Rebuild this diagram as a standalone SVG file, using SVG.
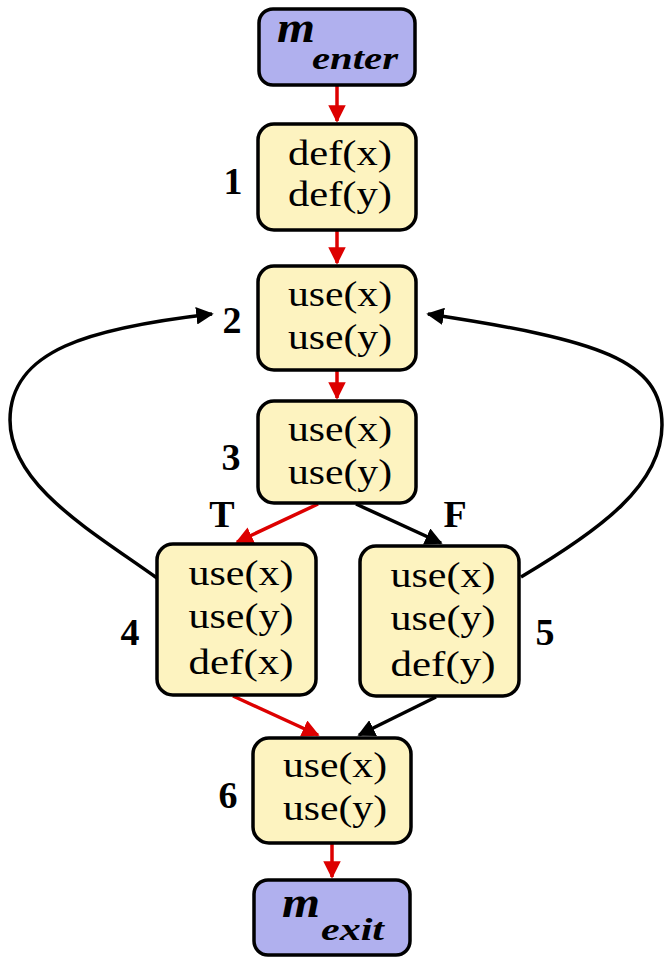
<svg xmlns="http://www.w3.org/2000/svg" width="664" height="959" viewBox="0 0 664 959">
<defs>
<style>
.blk{fill:#fdf3c0;stroke:#000;stroke-width:3.5}
.term{fill:#b0b0ee;stroke:#000;stroke-width:3.5}
.t{font-family:"Liberation Serif",serif;font-size:36px;text-anchor:middle;fill:#000}
.n{font-family:"Liberation Serif",serif;font-size:38px;font-weight:bold;text-anchor:middle;fill:#000}
.m{font-family:"Liberation Serif",serif;font-weight:bold;font-style:italic;fill:#000}
.red{fill:none;stroke:#dd0000;stroke-width:3.5}
.bk{fill:none;stroke:#000;stroke-width:3.5}
</style>
<marker id="ar" viewBox="0 0 10 10" refX="9" refY="5" markerWidth="5" markerHeight="5" orient="auto" markerUnits="strokeWidth"><path d="M0,0 L10,5 L0,10 z" fill="#dd0000"/></marker>
<marker id="ab" viewBox="0 0 10 10" refX="9" refY="5" markerWidth="5" markerHeight="5" orient="auto" markerUnits="strokeWidth"><path d="M0,0 L10,5 L0,10 z" fill="#000"/></marker>
</defs>
<g id="connectors">
<line class="red" x1="337" y1="86" x2="337" y2="121" marker-end="url(#ar)"/>
<line class="red" x1="337" y1="231" x2="337" y2="263" marker-end="url(#ar)"/>
<line class="red" x1="337" y1="371" x2="337" y2="398" marker-end="url(#ar)"/>
<line class="red" x1="318" y1="504" x2="237" y2="542" marker-end="url(#ar)"/>
<line class="bk" x1="356" y1="504" x2="441" y2="543" marker-end="url(#ab)"/>
<line class="red" x1="233" y1="696" x2="318" y2="735" marker-end="url(#ar)"/>
<line class="bk" x1="436" y1="697" x2="359" y2="735" marker-end="url(#ab)"/>
<line class="red" x1="332" y1="844" x2="332" y2="877" marker-end="url(#ar)"/>
<path class="bk" d="M157,578 C90,530 10,485 10,420 C10,350 90,328 212,314" marker-end="url(#ab)"/>
<path class="bk" d="M521,577 C600,530 662,485 662,425 C662,360 600,340 428,314" marker-end="url(#ab)"/>
</g>
<g id="enter">
<rect class="term" x="259" y="9" width="156" height="76" rx="14"/>
<text class="m" x="277" y="42" font-size="44" textLength="38" lengthAdjust="spacingAndGlyphs">m</text>
<text class="m" x="312" y="69" font-size="32" textLength="86" lengthAdjust="spacingAndGlyphs">enter</text>
</g>
<g id="n1">
<rect class="blk" x="258" y="124" width="158" height="106" rx="16"/>
<text class="t" x="340" y="165" textLength="104" lengthAdjust="spacingAndGlyphs">def(x)</text>
<text class="t" x="340" y="206" textLength="104" lengthAdjust="spacingAndGlyphs">def(y)</text>
<text class="n" x="233" y="194">1</text>
</g>
<g id="n2">
<rect class="blk" x="258" y="266" width="158" height="104" rx="16"/>
<text class="t" x="340" y="306" textLength="104" lengthAdjust="spacingAndGlyphs">use(x)</text>
<text class="t" x="340" y="349" textLength="104" lengthAdjust="spacingAndGlyphs">use(y)</text>
<text class="n" x="232" y="333">2</text>
</g>
<g id="n3">
<rect class="blk" x="258" y="401" width="158" height="102" rx="16"/>
<text class="t" x="340" y="441" textLength="104" lengthAdjust="spacingAndGlyphs">use(x)</text>
<text class="t" x="340" y="484" textLength="104" lengthAdjust="spacingAndGlyphs">use(y)</text>
<text class="n" x="231" y="470">3</text>
<text class="n" x="222" y="527">T</text>
<text class="n" x="455" y="527">F</text>
</g>
<g id="n4">
<rect class="blk" x="157" y="544" width="159" height="151" rx="16"/>
<text class="t" x="241" y="585" textLength="105" lengthAdjust="spacingAndGlyphs">use(x)</text>
<text class="t" x="241" y="628" textLength="105" lengthAdjust="spacingAndGlyphs">use(y)</text>
<text class="t" x="241" y="674" textLength="105" lengthAdjust="spacingAndGlyphs">def(x)</text>
<text class="n" x="130" y="645">4</text>
</g>
<g id="n5">
<rect class="blk" x="360" y="546" width="159" height="150" rx="16"/>
<text class="t" x="443" y="587" textLength="105" lengthAdjust="spacingAndGlyphs">use(x)</text>
<text class="t" x="443" y="630" textLength="105" lengthAdjust="spacingAndGlyphs">use(y)</text>
<text class="t" x="443" y="676" textLength="105" lengthAdjust="spacingAndGlyphs">def(y)</text>
<text class="n" x="545" y="645">5</text>
</g>
<g id="n6">
<rect class="blk" x="253" y="738" width="158" height="105" rx="16"/>
<text class="t" x="335" y="777" textLength="104" lengthAdjust="spacingAndGlyphs">use(x)</text>
<text class="t" x="335" y="820" textLength="104" lengthAdjust="spacingAndGlyphs">use(y)</text>
<text class="n" x="228" y="808">6</text>
</g>
<g id="exit">
<rect class="term" x="254" y="880" width="156" height="75" rx="14"/>
<text class="m" x="282" y="917" font-size="44" textLength="38" lengthAdjust="spacingAndGlyphs">m</text>
<text class="m" x="321" y="940" font-size="32" textLength="63" lengthAdjust="spacingAndGlyphs">exit</text>
</g>
</svg>
